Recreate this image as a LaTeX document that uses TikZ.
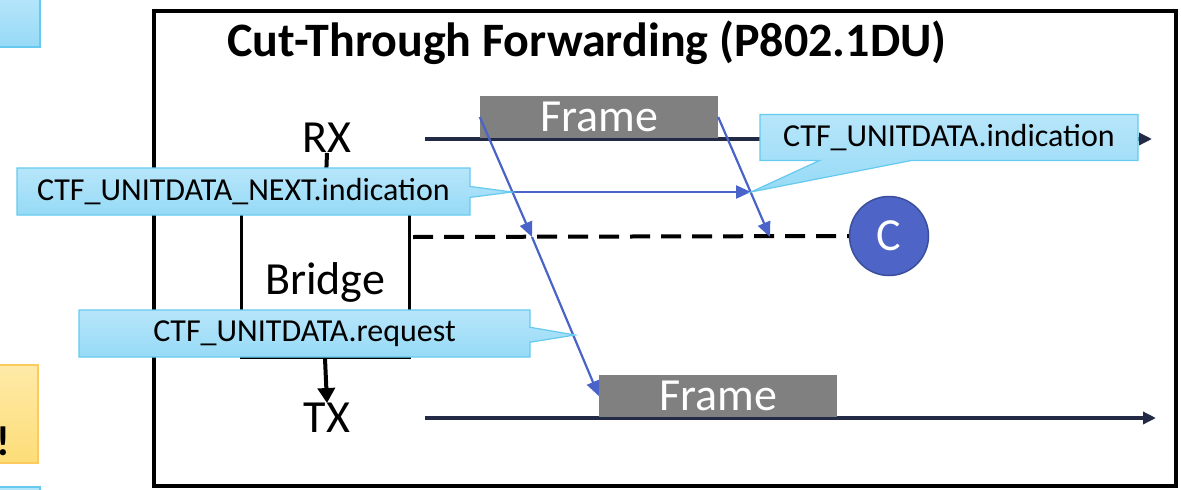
\documentclass[tikz,border=0pt]{standalone}
\usepackage{fontspec}
\setmainfont{Carlito}
\usepackage{tikz}
\usetikzlibrary{shapes,arrows.meta,positioning}
\definecolor{calltop}{HTML}{B7E6FA}
\definecolor{callbottom}{HTML}{96DAF6}
\definecolor{callborder}{HTML}{66CAEF}
\definecolor{framegray}{HTML}{808080}
\definecolor{flowblue}{HTML}{4A63C9}
\definecolor{navy}{HTML}{232A46}
\definecolor{cfill}{HTML}{4E64C7}
\definecolor{cborder}{HTML}{3A4E9C}
\definecolor{notetop}{HTML}{FEEAA8}
\definecolor{notebottom}{HTML}{FDDD78}
\tikzstyle{callbox} = [rectangle callout, draw=callborder, line width=1.2pt, top color=calltop, bottom color=callbottom, inner sep=0pt, font=\fontsize{32}{36}\selectfont]
\tikzstyle{framebox} = [rectangle, fill=framegray, text=white, inner sep=0pt, minimum width=238pt, minimum height=42pt, font=\fontsize{46}{50}\selectfont]
\tikzstyle{bigtext} = [inner sep=0pt, font=\fontsize{46}{50}\selectfont]
\tikzstyle{wire} = [draw=navy, line width=3.5pt, -{Triangle[length=13pt,width=12pt]}]
\tikzstyle{flow} = [draw=flowblue, line width=2.2pt, -{Triangle[length=15pt,width=13pt]}]
\tikzstyle{thick line} = [draw, line width=4pt]
\begin{document}
\begin{tikzpicture}[x=1pt, y=-1pt]
	\useasboundingbox (0,0) rectangle (1181,490);
	% bits of the neighbouring slide content
	\path [draw=callborder, line width=1.2pt, top color=calltop, bottom color=callbottom] (-5,-5) rectangle (40,47);
	\path [draw=notebottom!80!orange, line width=1.2pt, top color=notetop, bottom color=notebottom] (-5,365) rectangle (38,463);
	\node [inner sep=0pt, font=\fontsize{42}{46}\selectfont\bfseries] (bang) at (3,441) {!};
	\path [draw=callborder, line width=1.2pt, top color=calltop, bottom color=callbottom] (-5,487) rectangle (40,500);

	\node [rectangle, draw, line width=4.5pt, minimum width=1022pt, minimum height=475pt] (outer) at (665,248.5) {};
	\node [inner sep=0pt, font=\fontsize{48}{52}\selectfont\bfseries] (title) at (587,43) {Cut-Through Forwarding (P802.1DU)};

	\node [bigtext] (rx) at (327,138) {RX};
	\node [bigtext] (tx) at (327,418) {TX};
	\node [rectangle, draw, line width=3pt, minimum width=168pt, minimum height=150pt, inner sep=0pt, font=\fontsize{46}{50}\selectfont] (bridge) at (325,282) {Bridge};

	\path [thick line] (rx.south) -- (bridge.north);
	\path [thick line, -{Triangle[length=15pt,width=17pt]}] (bridge.south) -- (tx.north);

	\coordinate (rxa) at (425,139);
	\coordinate (rxb) at (1152,139);
	\coordinate (txa) at (425,418);
	\coordinate (txb) at (1156,418);
	\path [wire] (rxa) -- (rxb);
	\path [wire] (txa) -- (txb);

	\node [framebox] (frame1) at (599,117) {Frame};
	\node [framebox] (frame2) at (718,396) {Frame};

	\node [circle, draw=cborder, line width=1.5pt, fill=cfill, text=white, minimum size=79pt, inner sep=0pt, font=\fontsize{46}{50}\selectfont] (c) at (889,236) {C};
	\coordinate (dash0) at (413,237);
	\path [draw, line width=4pt, dash pattern=on 20pt off 11pt] (dash0) -- (c.west);

	\coordinate (d1) at (532,237);
	\coordinate (d2) at (770,237);
	\coordinate (nx1) at (512,192);
	\coordinate (nx2) at (751,192);
	\coordinate (rq) at (575,335);

	\path [flow] (frame1.west) -- (d1);
	\path [flow] (d1) -- (frame2.west);
	\path [flow] (frame1.east) -- (d2);
	\path [flow] (nx1) -- (nx2);

	\node [callbox, minimum width=453pt, minimum height=47pt, callout absolute pointer={(nx1)}, callout pointer width=11pt] (nextind) at (243.5,191.5) {CTF\_UNITDATA\_NEXT.indication};
	\node [callbox, minimum width=378pt, minimum height=46pt, callout absolute pointer={(nx2)}, callout pointer width=92pt] (ind) at (949,137.5) {CTF\_UNITDATA.indication};
	\node [callbox, minimum width=451pt, minimum height=47pt, callout absolute pointer={(rq)}, callout pointer width=15pt] (req) at (304.5,333.5) {CTF\_UNITDATA.request};
\end{tikzpicture}
\end{document}
